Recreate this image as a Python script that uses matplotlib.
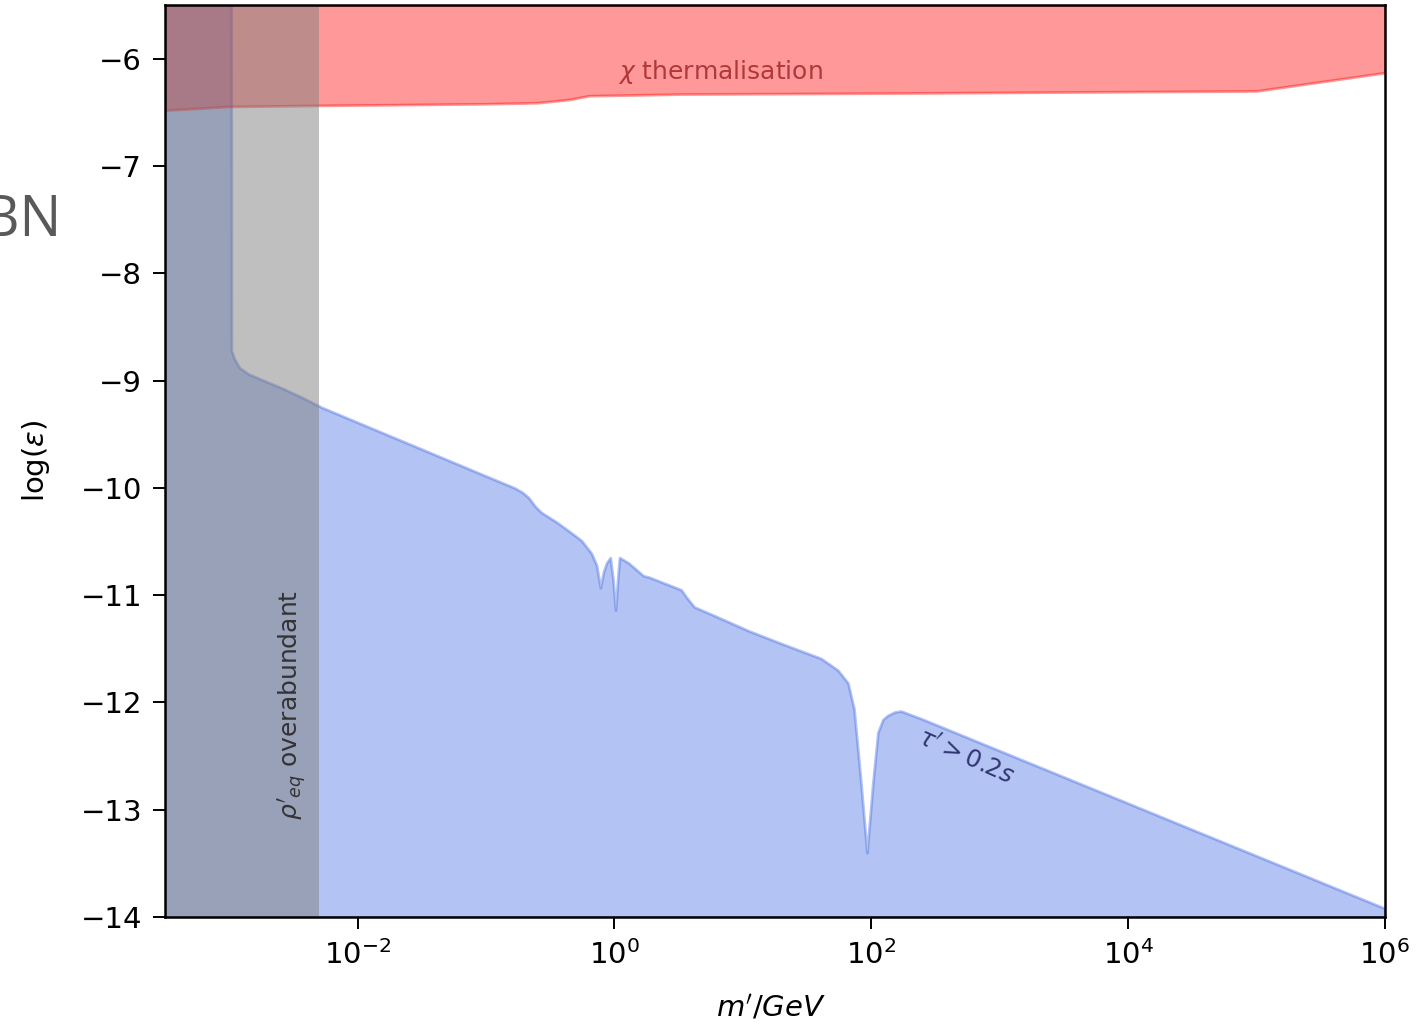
import numpy as np
import matplotlib
matplotlib.use("Agg")
import matplotlib.pyplot as plt

# Lifetime bound (tau' > 0.2 s): log10(m'/GeV) and log10(epsilon) along the boundary
tau_logm = [-3.5, -2.985, -2.983, -2.96, -2.92, -2.85, -2.75, -2.59, -2.435, -2.28,
            -2.0, -1.5, -1.0, -0.779, -0.72, -0.67, -0.62, -0.569, -0.45, -0.336, -0.258,
            -0.18, -0.14, -0.110, -0.085, -0.062, -0.033, -0.012, 0.008, 0.025, 0.039,
            0.109, 0.226, 0.264, 0.519, 0.56, 0.621, 0.776, 1.04, 1.297, 1.608, 1.740,
            1.818, 1.865, 1.919, 1.966, 2.012, 2.051, 2.09, 2.129, 2.18, 2.23,
            2.386, 4.0, 6.0]
tau_logeps = [-5.5, -5.5, -8.72, -8.80, -8.88, -8.94, -8.99, -9.07, -9.156, -9.25,
              -9.39, -9.64, -9.89, -10.0, -10.04, -10.09, -10.17, -10.23, -10.32, -10.42, -10.49,
              -10.61, -10.72, -10.93, -10.78, -10.70, -10.65, -10.85, -11.14, -10.85, -10.65,
              -10.70, -10.82, -10.83, -10.95, -11.02, -11.11, -11.19, -11.33, -11.45, -11.59, -11.70,
              -11.82, -12.06, -12.75, -13.40, -12.75, -12.28, -12.16, -12.12, -12.09, -12.08,
              -12.15, -12.94, -13.92]

# Dark-sector thermalisation bound (excluded above this line)
therm_logm = [-3.5, -3.0, -2.3, -1.0, -0.6, -0.35, -0.2, 0.5, 2.2, 5.0, 6.0]
therm_logeps = [-6.48, -6.445, -6.435, -6.42, -6.41, -6.38, -6.345, -6.33, -6.32, -6.30, -6.13]

# rho'_eq overabundance: excluded below this mass (GeV)
overabundant_mmax = 5e-3

x_lim = (10 ** -3.5, 1e6)
y_lim = (-14, -5.5)
x_ticks = [1e-2, 1e0, 1e2, 1e4, 1e6]
x_ticklabels = [r"$10^{-2}$", r"$10^{0}$", r"$10^{2}$", r"$10^{4}$", r"$10^{6}$"]
y_ticks = [-14, -13, -12, -11, -10, -9, -8, -7, -6]

fig = plt.figure(figsize=(14.19, 10.29), dpi=100)
ax = fig.add_axes([0.1163, 0.1088, 0.976 - 0.1163, 0.9951 - 0.1088])

m_tau = 10 ** np.array(tau_logm)
m_th = 10 ** np.array(therm_logm)

ax.fill_between(m_tau, tau_logeps, y_lim[0], color="royalblue", alpha=0.4,
                linewidth=2.0, zorder=1)
ax.fill_between(m_th, therm_logeps, y_lim[1], color="red", alpha=0.4,
                linewidth=2.0, zorder=2)
ax.axvspan(x_lim[0], overabundant_mmax, color="grey", alpha=0.5, linewidth=0, zorder=3)

ax.text(10 ** 0.823, -6.12, r"$\chi$ thermalisation", color="#b03838", fontsize=18,
        ha="center", va="center", zorder=5)
ax.text(10 ** 2.736, -12.51, r"$\tau' > 0.2s$", color="#2e3570", fontsize=17.5,
        ha="center", va="center", rotation=-24, zorder=5)
ax.text(10 ** -2.505, -12.02, r"$\rho'_{eq}$ overabundant", color="#333333",
        fontsize=18, ha="center", va="center", rotation=90, zorder=5)

ax.set_xscale("log")
ax.set_xlim(*x_lim)
ax.set_ylim(*y_lim)
ax.set_xticks(x_ticks)
ax.set_xticklabels(x_ticklabels)
ax.xaxis.set_minor_locator(matplotlib.ticker.NullLocator())
ax.set_yticks(y_ticks)
ax.set_yticklabels([f"\u2212{abs(v)}" for v in y_ticks])
ax.tick_params(labelsize=21, length=8.5, width=1.4, pad=8)
for s in ax.spines.values():
    s.set_linewidth(1.8)
    s.set_zorder(6)

ax.set_xlabel(r"$m'/GeV$", fontsize=21)
ax.set_ylabel(r"log($\epsilon$)", fontsize=21)
ax.yaxis.set_label_coords(-0.093, 0.5)
ax.xaxis.set_label_coords(0.497, -0.084)

fig.text(62 / 1419, 1 - 222 / 1029, "BBN", fontsize=40, color="#595959",
         family="Open Sans", ha="right", va="center")

fig.savefig("out.png", dpi=100)
